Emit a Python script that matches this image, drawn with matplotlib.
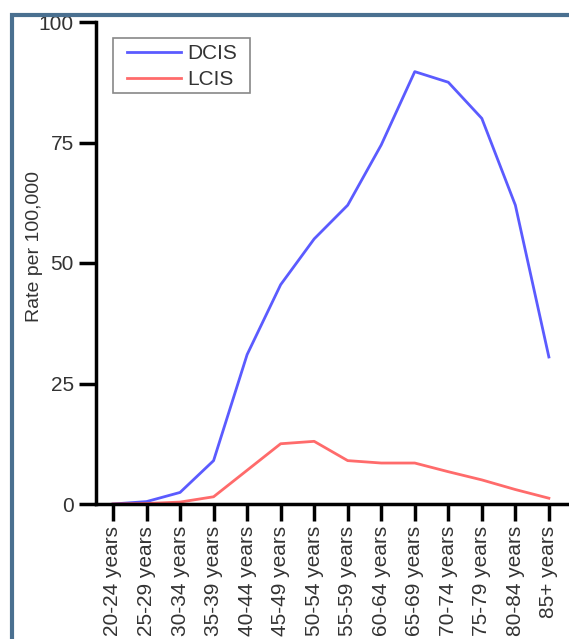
import matplotlib
matplotlib.use("Agg")
import matplotlib.pyplot as plt
from matplotlib.patches import Rectangle

categories = ["20-24 years", "25-29 years", "30-34 years", "35-39 years", "40-44 years",
              "45-49 years", "50-54 years", "55-59 years", "60-64 years", "65-69 years",
              "70-74 years", "75-79 years", "80-84 years", "85+ years"]
dcis = [0.0, 0.5, 2.4, 9.0, 31.0, 45.5, 55.0, 62.0, 74.5, 89.7, 87.5, 80.0, 62.0, 30.5]
lcis = [0.0, 0.1, 0.4, 1.5, 7.0, 12.5, 13.0, 9.0, 8.5, 8.5, 6.7, 5.0, 3.0, 1.2]
yticks = [0, 25, 50, 75, 100]

plt.rcParams['font.family'] = ['Liberation Sans', 'DejaVu Sans']

fig = plt.figure(figsize=(5.69, 6.39), dpi=100)
ax = fig.add_axes([96/569, 1-504/639, 1-96/569, (504-22)/639])

x = list(range(len(categories)))
ax.plot(x, dcis, color="#5b5bff", lw=2.0, label="DCIS", solid_joinstyle='round')
ax.plot(x, lcis, color="#ff6b6b", lw=2.0, label="LCIS", solid_joinstyle='round')

ax.set_xlim(-0.507, 13.6)
ax.set_ylim(0, 100)
ax.set_yticks(yticks)
ax.set_xticks(x)
ax.set_xticklabels(categories, rotation=90, fontsize=15, color="#333333")
ax.tick_params(axis='y', labelsize=15, labelcolor="#333333")
ax.tick_params(axis='both', direction='out', length=12, width=2.5, color='black', pad=4)
for s in ["top", "right"]:
    ax.spines[s].set_visible(False)
for s in ["left", "bottom"]:
    ax.spines[s].set_linewidth(2.5)
ax.set_ylabel("Rate per 100,000", fontsize=14, color="#333333")
ax.yaxis.set_label_coords((43-96)/473, (504-247)/482)

W, H = 473, 482
leg = ax.legend(loc='upper left', bbox_to_anchor=((127-96)/W, (504-44)/H),
                borderaxespad=0, borderpad=0,
                fontsize=15, frameon=False,
                handlelength=2.6, handletextpad=0.3, labelspacing=0.35)
for t in leg.get_texts():
    t.set_color("#333333")
frame = Rectangle(((113-96)/W, (504-93)/H), (250-113)/W, (93-38)/H,
                  transform=ax.transAxes, fill=False, edgecolor="#888888",
                  linewidth=1.2, zorder=5)
ax.add_patch(frame)

rect = Rectangle((11.5/569, -0.5), 2.0, 1 - 14.5/639 + 0.5, transform=fig.transFigure,
                 fill=False, edgecolor="#4a7090", linewidth=3, zorder=10)
fig.patches.append(rect)

fig.savefig("out.png", dpi=100)
